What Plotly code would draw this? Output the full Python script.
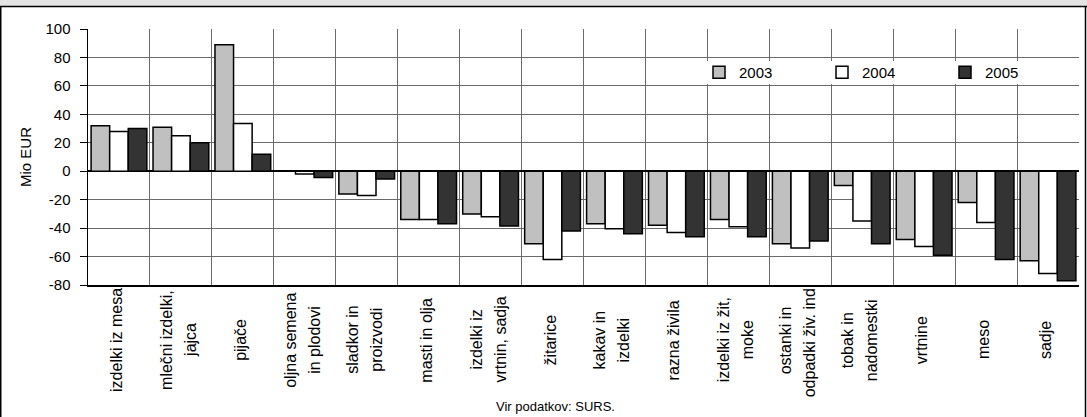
import plotly.graph_objects as go

# ---- data ----
categories = [
    "izdelki iz mesa", "mlečni izdelki,<br>jajca", "pijače", "oljna semena<br>in plodovi",
    "sladkor in<br>proizvodi", "masti in olja", "izdelki iz<br>vrtnin, sadja", "žitarice",
    "kakav in<br>izdelki", "razna živila", "izdelki iz žit,<br>moke",
    "ostanki in<br>odpadki živ. ind.", "tobak in<br>nadomestki", "vrtnine", "meso", "sadje",
]
series_names = ["2003", "2004", "2005"]
values_2003 = [32, 31, 89, 0, -16, -34, -30, -51, -37, -38, -34, -51, -10, -48, -22, -63]
values_2004 = [28, 25, 33.5, -2, -17, -34, -32, -62, -40.5, -43, -39, -54, -35, -53, -36, -72]
values_2005 = [30, 20, 12, -4.5, -5.5, -37, -38.5, -42, -44, -46, -46, -49, -51, -59, -62, -77]
y_tick_values = [-80, -60, -40, -20, 0, 20, 40, 60, 80, 100]
y_tick_labels = [str(v) for v in y_tick_values]
y_title = "Mio EUR"
source_note = "Vir podatkov: SURS."

# ---- styling / layout ----
colors = ["#C0C0C0", "#FFFFFF", "#333333"]
FONT = "Arial, 'Liberation Sans', sans-serif"
W, H = 1087, 417
L, R, T, B = 88, 8, 29, 132
pw, ph = W - L - R, H - T - B


def px_x(px):
    return (px - L) / pw


def px_y(py):
    return (H - B - py) / ph


fig = go.Figure()
for name, vals, col in zip(series_names, [values_2003, values_2004, values_2005], colors):
    fig.add_bar(
        x=categories, y=vals, name=name,
        marker=dict(color=col, line=dict(color="black", width=1.5)),
    )

grid_col = "#6A6A6A"
fig.update_layout(
    width=W, height=H,
    margin=dict(l=L, r=R, t=T, b=B, pad=0),
    barmode="group", bargap=0.1, bargroupgap=0,
    plot_bgcolor="white", paper_bgcolor="white",
    font=dict(family=FONT, size=15, color="black"),
    legend=dict(
        orientation="h", x=px_x(699), y=px_y(72.5), xanchor="left", yanchor="middle",
        bgcolor="rgba(0,0,0,0)", borderwidth=0, font=dict(size=15, family=FONT),
        entrywidth=78, entrywidthmode="pixels", itemwidth=30,
        traceorder="normal",
    ),
    xaxis=dict(
        type="category", tickson="boundaries", showgrid=True, gridcolor=grid_col, gridwidth=1,
        showticklabels=False, ticks="", showline=True, linecolor="black", linewidth=1.5,
        range=[-0.5, len(categories) - 0.5], fixedrange=True,
    ),
    yaxis=dict(
        range=[-80, 100], tickmode="array", tickvals=y_tick_values, ticktext=y_tick_labels,
        ticks="outside", ticklen=7, tickcolor="black", tickwidth=1, ticklabelstandoff=6,
        showline=True, linecolor="black", linewidth=1.5,
        showgrid=True, gridcolor=grid_col, gridwidth=1,
        zeroline=True, zerolinecolor="black", zerolinewidth=1.5,
        tickfont=dict(size=15, family=FONT),
        title=dict(text=y_title, font=dict(size=15, family=FONT), standoff=10),
        fixedrange=True,
    ),
)

# category labels (rotated, centred in the label band)
for cat in categories:
    lines = cat.split("<br>")
    n = len(lines)
    for j, line in enumerate(lines):
        fig.add_annotation(
            x=cat, xref="x", y=px_y(340), yref="paper", text=line, textangle=-90,
            showarrow=False, xanchor="center", yanchor="middle",
            xshift=(j - (n - 1) / 2) * 24 - 3, font=dict(size=16, family=FONT),
        )

fig.add_annotation(
    x=px_x(555), y=px_y(406), xref="paper", yref="paper", text=source_note,
    showarrow=False, xanchor="center", yanchor="middle", font=dict(size=13, family=FONT),
)

# white background band behind the legend
fig.add_shape(type="rect", xref="paper", yref="paper", x0=px_x(700), x1=px_x(1078), y0=px_y(84), y1=px_y(61),
              fillcolor="white", line=dict(width=0), layer="above")

# frame: grey strip on top, border lines
fig.add_shape(type="rect", xref="paper", yref="paper", x0=px_x(0), x1=px_x(W), y0=px_y(6), y1=px_y(0),
              fillcolor="#E4E4E4", line=dict(width=0), layer="below")
fig.add_shape(type="line", xref="paper", yref="paper", x0=px_x(0), x1=px_x(W), y0=px_y(6.5), y1=px_y(6.5),
              line=dict(color="black", width=1.5))
fig.add_shape(type="line", xref="paper", yref="paper", x0=px_x(0.75), x1=px_x(0.75), y0=px_y(6), y1=px_y(H),
              line=dict(color="black", width=1.5))
fig.add_shape(type="line", xref="paper", yref="paper", x0=px_x(1085.5), x1=px_x(1085.5), y0=px_y(6), y1=px_y(H),
              line=dict(color="black", width=1.5))

fig.write_html(
    "out.html",
    config={"displayModeBar": False, "staticPlot": True},
    post_script="document.body.style.margin='0';document.body.style.overflow='hidden';",
)
